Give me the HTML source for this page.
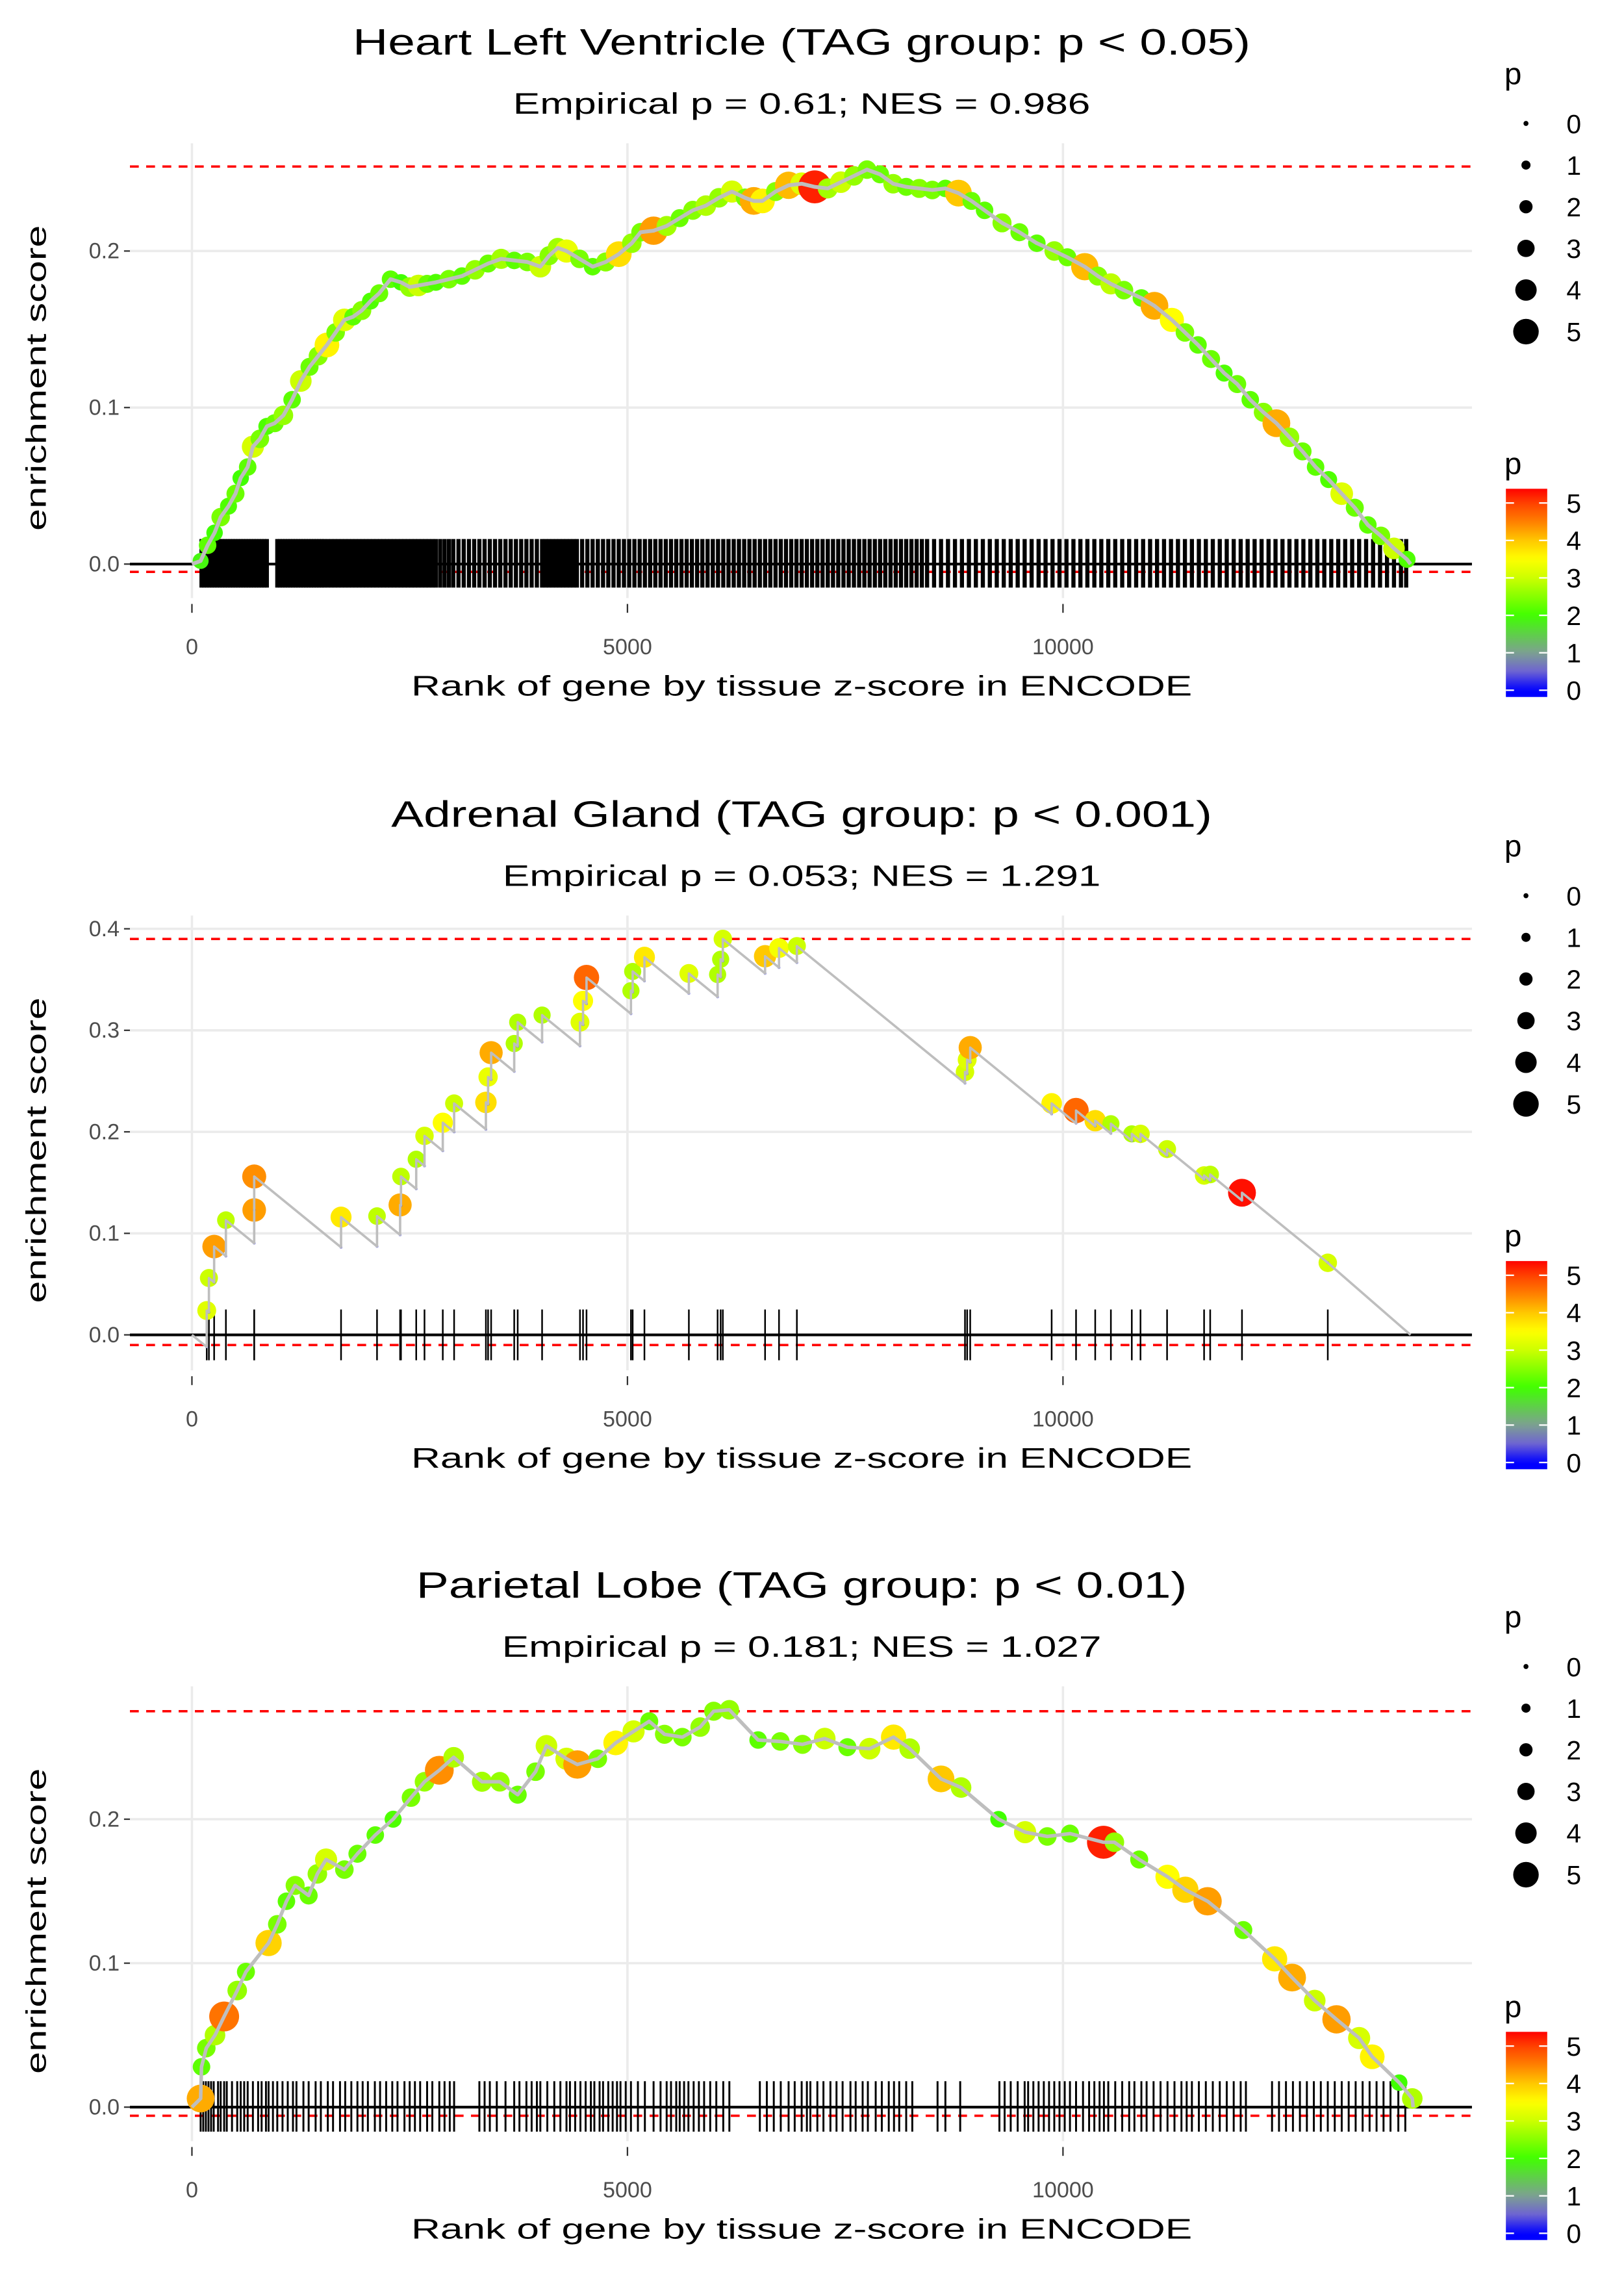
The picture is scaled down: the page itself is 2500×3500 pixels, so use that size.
<!DOCTYPE html>
<html><head><meta charset="utf-8"><style>
html,body{margin:0;padding:0;background:#fff;}
svg{display:block;font-family:"Liberation Sans",Arial,sans-serif;}
</style></head><body>
<svg id="fig" xmlns="http://www.w3.org/2000/svg" width="2500" height="3500" viewBox="0 0 1100 1540">
<rect width="1100" height="1540" fill="#fff"/>
</svg>
<script>
// ---- Panel 1: Heart Left Ventricle ----
const p1Ranks=[100,180,260,330,420,500,560,640,700,780,860,950,1050,1150,1250,1350,1450,1550,1650,1750,1850,1950,2050,2150,2280,2400,2500,2600,2700,2800,2950,3100,3250,3400,3550,3700,3850,4000,4100,4200,4300,4450,4600,4750,4900,5050,5150,5300,5450,5600,5750,5900,6050,6200,6350,6450,6550,6700,6850,7000,7150,7300,7450,7600,7750,7900,8050,8200,8350,8500,8650,8800,8950,9100,9300,9500,9700,9900,10050,10250,10400,10550,10700,10900,11050,11250,11400,11550,11700,11850,12000,12150,12300,12450,12600,12750,12900,13050,13200,13350,13500,13650,13800,13950];
const p1ES=[0.002,0.012,0.02,0.03,0.037,0.045,0.055,0.062,0.075,0.08,0.088,0.09,0.095,0.105,0.117,0.126,0.133,0.14,0.148,0.156,0.158,0.162,0.168,0.173,0.182,0.18,0.177,0.178,0.179,0.18,0.182,0.184,0.188,0.192,0.195,0.194,0.193,0.19,0.197,0.202,0.2,0.195,0.19,0.193,0.198,0.205,0.212,0.213,0.216,0.221,0.226,0.229,0.234,0.238,0.234,0.232,0.232,0.238,0.242,0.243,0.241,0.24,0.244,0.248,0.252,0.249,0.243,0.241,0.24,0.239,0.24,0.237,0.232,0.226,0.218,0.212,0.205,0.2,0.196,0.19,0.184,0.179,0.175,0.17,0.165,0.156,0.148,0.14,0.131,0.122,0.115,0.105,0.097,0.09,0.081,0.072,0.062,0.054,0.045,0.036,0.025,0.018,0.01,0.003];
const p1P=[1.9,2.2,2.0,2.4,2.1,2.3,2.0,2.2,3.1,2.4,2.1,2.3,2.6,2.2,3.0,2.3,2.5,3.6,2.4,3.2,2.2,2.5,2.1,2.3,2.2,2.0,2.6,3.0,2.3,2.1,2.4,2.2,2.6,2.3,2.7,2.2,2.4,3.0,2.5,2.7,3.3,2.4,2.2,2.5,3.8,2.6,2.4,4.3,2.7,2.3,2.5,2.8,2.6,3.1,2.4,4.2,3.6,2.5,4.1,3.2,5.2,2.7,3.0,2.6,2.4,2.3,2.6,2.3,2.5,2.4,2.2,4.0,2.3,2.2,2.5,2.3,2.2,2.6,2.3,4.1,2.5,2.9,2.4,2.2,4.2,3.5,2.4,2.2,2.3,2.1,2.3,2.2,2.5,4.2,2.6,2.3,2.2,2.1,3.2,2.3,2.2,2.4,3.0,2.1];
const p1Rug=[110,140,170,200,230,260,290,320,350,380,410,440,470,500,530,560,590,620,650,680,710,740,770,800,830,860,980,1010,1040,1070,1100,1130,1160,1190,1220,1250,1280,1310,1340,1370,1400,1430,1460,1490,1520,1560,1600,1640,1680,1720,1760,1800,1840,1880,1920,1960,2000,2040,2080,2120,2160,2200,2240,2280,2320,2360,2400,2440,2480,2520,2560,2600,2640,2680,2720,2760,2800,2850,2900,2950,3000,3060,3120,3180,3240,3300,3360,3420,3480,3540,3600,3660,3720,3780,3840,3900,3960,4020,4060,4100,4140,4180,4220,4260,4300,4340,4380,4420,4480,4540,4600,4660,4720,4780,4840,4900,4960,5020,5080,5140,5200,5260,5320,5380,5440,5500,5560,5620,5680,5740,5800,5860,5920,5980,6040,6100,6160,6220,6280,6340,6400,6460,6520,6580,6640,6700,6760,6820,6880,6940,7000,7060,7120,7180,7240,7300,7360,7420,7480,7540,7600,7660,7720,7780,7840,7900,7960,8020,8080,8140,8200,8260,8320,8380,8440,8520,8600,8680,8760,8840,8920,9000,9080,9160,9240,9320,9400,9480,9560,9640,9720,9800,9880,9960,10040,10120,10200,10280,10360,10440,10520,10600,10680,10760,10840,10920,11000,11080,11160,11240,11320,11400,11480,11560,11640,11720,11800,11880,11960,12040,12120,12200,12280,12360,12440,12520,12600,12680,12760,12840,12920,13000,13080,13160,13240,13320,13400,13480,13560,13640,13720,13800,13880,13940];

// ---- Panel 2: Adrenal Gland ----
const p2Ranks=[170,195,255,390,715,715,1712,2125,2390,2400,2575,2670,2880,3010,3375,3400,3435,3700,3740,4020,4455,4490,4530,5040,5060,5195,5705,6035,6070,6095,6580,6740,6945,8875,8900,8935,9870,10150,10370,10550,10790,10890,11195,11620,11690,12055,13040];
const p2ES=[0.024,0.056,0.087,0.113,0.123,0.156,0.116,0.117,0.128,0.156,0.173,0.196,0.209,0.228,0.229,0.254,0.278,0.287,0.308,0.315,0.308,0.329,0.352,0.339,0.358,0.372,0.356,0.355,0.370,0.390,0.373,0.381,0.383,0.259,0.271,0.283,0.228,0.221,0.211,0.208,0.198,0.198,0.183,0.157,0.158,0.140,0.071];
const p2P=[3.2,3.0,4.3,2.9,4.3,4.4,3.7,2.9,4.2,2.9,2.8,3.1,3.5,3.0,3.8,3.3,4.2,2.8,2.8,2.8,3.2,3.5,4.7,2.8,2.8,3.7,3.2,2.8,2.8,3.1,4.0,3.4,3.0,3.1,3.2,4.2,3.6,4.7,3.8,2.8,2.8,3.1,3.0,3.1,2.9,5.3,3.1];
const p2Decline=7.0e-5;
const p2End=13990;

// ---- Panel 3: Parietal Lobe ----
const p3Ranks=[100,110,165,265,370,520,620,880,980,1085,1185,1340,1440,1540,1750,1900,2105,2310,2515,2670,2840,3005,3330,3535,3740,3945,4070,4300,4425,4660,4865,5070,5250,5425,5630,5835,5990,6170,6500,6755,7010,7265,7525,7780,8055,8240,8600,8830,9260,9565,9820,10080,10465,10590,10875,11200,11405,11660,12070,12430,12630,12890,13140,13400,13550,13860,14010];
const p3ES=[0.006,0.028,0.041,0.05,0.063,0.081,0.094,0.114,0.127,0.143,0.154,0.147,0.162,0.172,0.165,0.176,0.189,0.2,0.215,0.226,0.234,0.243,0.226,0.226,0.217,0.233,0.251,0.242,0.238,0.242,0.253,0.261,0.268,0.259,0.257,0.264,0.275,0.276,0.255,0.254,0.252,0.256,0.25,0.249,0.257,0.249,0.228,0.222,0.2,0.191,0.188,0.19,0.184,0.184,0.172,0.16,0.151,0.143,0.123,0.103,0.09,0.074,0.061,0.048,0.035,0.017,0.006];
const p3P=[4.2,2.2,2.4,2.8,4.6,2.6,2.3,3.9,2.4,2.2,2.5,2.3,2.6,3.1,2.4,2.3,2.2,2.1,2.4,2.6,4.4,2.8,2.7,2.6,2.3,2.4,3.0,3.1,4.3,2.4,3.6,3.1,2.3,2.5,2.4,2.6,2.5,2.6,2.2,2.4,2.5,3.0,2.3,3.0,3.7,2.8,4.0,2.8,2.0,3.1,2.4,2.3,5.2,2.6,2.3,3.5,3.9,4.3,2.3,3.7,4.2,3.0,4.3,3.1,3.6,2.0,2.8];
const p3Rug=[100,130,160,190,220,250,300,330,370,400,460,520,560,600,640,700,760,800,850,880,930,980,1040,1100,1160,1200,1280,1340,1420,1480,1560,1620,1700,1760,1830,1900,1960,2020,2100,2160,2230,2300,2360,2440,2500,2560,2620,2700,2760,2840,2900,2960,3010,3300,3360,3420,3500,3600,3700,3760,3840,3900,3960,4000,4080,4160,4230,4300,4340,4400,4460,4520,4580,4620,4680,4720,4780,4830,4880,4920,4980,5040,5120,5200,5300,5380,5450,5500,5560,5600,5650,5700,5760,5820,5880,5950,6020,6100,6170,6520,6600,6680,6760,6850,6920,7000,7060,7100,7180,7250,7330,7400,7470,7560,7620,7700,7760,7850,7920,8000,8060,8120,8200,8270,8560,8650,8820,9270,9330,9400,9480,9560,9600,9660,9720,9780,9840,9900,9960,10020,10080,10150,10230,10300,10360,10420,10470,10520,10600,10680,10760,10820,10900,10960,11040,11120,11200,11280,11360,11420,11480,11560,11640,11720,11800,11880,11960,12040,12100,12400,12480,12560,12640,12720,12800,12880,12960,13040,13120,13200,13280,13360,13440,13520,13600,13680,13760,13850,13930];

// ---- axis ticks ----
const xTickVals=[0,5000,10000];
const xTickLabels=["0","5000","10000"];
const p1YTicks=[0,0.1,0.2];
const p2YTicks=[0,0.1,0.2,0.3,0.4];
const p3YTicks=[0,0.1,0.2];
const legendVals=[0,1,2,3,4,5];

const NS="http://www.w3.org/2000/svg";
const svg=document.getElementById('fig');
function mk(tag,attrs,parent){const e=document.createElementNS(NS,tag);for(const k in attrs)e.setAttribute(k,attrs[k]);(parent||svg).appendChild(e);return e;}

const stops=[[0,[0,0,255]],[0.5,[110,100,210]],[1,[125,160,145]],[2,[64,255,0]],[3,[204,255,0]],[3.5,[255,255,0]],[4,[255,200,0]],[4.5,[255,128,0]],[5,[255,64,0]],[5.4,[255,0,0]]];
function colorOf(p){
  if(p<=0)return 'rgb(0,0,255)';
  for(let i=1;i<stops.length;i++){
    if(p<=stops[i][0]){const a=stops[i-1],b=stops[i];const t=(p-a[0])/(b[0]-a[0]);
      const c=a[1].map((v,j)=>Math.round(v+(b[1][j]-v)*t));return `rgb(${c[0]},${c[1]},${c[2]})`;}
  }
  return 'rgb(255,0,0)';
}
function rad(p){return 1.76+1.45*p;}
const xs=r=>130+r*0.059;

function panel(cfg){
  const off=cfg.off;
  const ys=v=>cfg.y0-v*cfg.k;
  const g=mk('g',{});
  
  
  cfg.yTicks.forEach(v=>{
    const l=mk('line',{x1:88,x2:997,y1:ys(v),y2:ys(v),stroke:'#EBEBEB','stroke-width':1.6},g);
    
    
  });
  xTickVals.forEach(v=>{
    const l=mk('line',{x1:xs(v),x2:xs(v),y1:cfg.top,y2:cfg.bot,stroke:'#EBEBEB','stroke-width':1.6},g);
    
    
  });
  [cfg.hiLine,cfg.loLine].forEach(v=>{
    const l=mk('line',{x1:88,x2:997,y1:ys(v),y2:ys(v),stroke:'#FF0000','stroke-width':1.6,'stroke-dasharray':'6,5'},g);
    
    
  });
  const rugRanks=cfg.rug||cfg.ranks;
  rugRanks.forEach(r=>{
    const l=mk('line',{x1:xs(r),x2:xs(r),y1:ys(cfg.rugHi),y2:ys(cfg.rugLo),stroke:'#000','stroke-width':cfg.rugW},g);
    
    
  });
  const z=mk('line',{x1:88,x2:997,y1:ys(0),y2:ys(0),stroke:'#000','stroke-width':1.8},g);
  
  
  cfg.ranks.forEach((r,i)=>{
    const c=mk('circle',{cx:xs(r),cy:ys(cfg.es[i]),r:rad(cfg.p[i])*cfg.rs,fill:colorOf(cfg.p[i])},g);
    
    
  });
  let d=`M${xs(0)},${ys(0)}`;
  let prevR=0,prevE=0;
  cfg.ranks.forEach((r,i)=>{
    if(cfg.decline){
      const before=prevE-cfg.decline*(r-prevR);
      d+=` L${xs(r)},${ys(before)}`;
      const b=mk('circle',{cx:xs(r),cy:ys(before),r:0.9,fill:'#3030ff'},g);
      
      
    }
    d+=` L${xs(r)},${ys(cfg.es[i])}`;
    prevR=r;prevE=cfg.es[i];
  });
  if(cfg.end)d+=` L${xs(cfg.end)},${ys(0)}`;
  const pth=mk('path',{d:d,fill:'none',stroke:'#BEBEBE','stroke-width':cfg.lineW,'stroke-linejoin':'round'},g);
  
  
  cfg.yTicks.forEach(v=>{
    const t=mk('line',{x1:84,x2:88,y1:ys(v),y2:ys(v),stroke:'#333','stroke-width':1},g);
    
    
    const tx=mk('text',{x:81,y:ys(v)+5,'text-anchor':'end','font-size':15,fill:'#4D4D4D'},g);
    tx.textContent=v.toFixed(1);
    
    
  });
  xTickVals.forEach((v,i)=>{
    const t=mk('line',{x1:xs(v),x2:xs(v),y1:cfg.bot+4,y2:cfg.bot+10,stroke:'#333','stroke-width':1},g);
    
    
    const tx=mk('text',{x:xs(v),y:off+443,'text-anchor':'middle','font-size':15,fill:'#4D4D4D'},g);
    tx.textContent=xTickLabels[i];
    
    
  });
  const ti=mk('text',{x:543,y:off+37,'text-anchor':'middle','font-size':25,fill:'#000',textLength:cfg.titleW,lengthAdjust:'spacingAndGlyphs'},g);
  ti.textContent=cfg.title;
  
  
  const st=mk('text',{x:543,y:off+77,'text-anchor':'middle','font-size':20,fill:'#000',textLength:cfg.subW,lengthAdjust:'spacingAndGlyphs'},g);
  st.textContent=cfg.sub;
  
  
  const xt=mk('text',{x:543,y:off+471,'text-anchor':'middle','font-size':19,fill:'#000',textLength:529,lengthAdjust:'spacingAndGlyphs'},g);
  xt.textContent='Rank of gene by tissue z-score in ENCODE';
  
  
  const yc=cfg.yTitleC;
  const yt=mk('text',{x:0,y:0,transform:`translate(31,${yc}) rotate(-90)`,'text-anchor':'middle','font-size':19,fill:'#000',textLength:207,lengthAdjust:'spacingAndGlyphs'},g);
  yt.textContent='enrichment score';
  
  
  const sl=mk('g',{},g);
  
  
  const slt=mk('text',{x:1019,y:off+57,'font-size':21,fill:'#000'},sl);
  slt.textContent='p';
  
  
  legendVals.forEach((v,i)=>{
    const yy=off+83.6+i*28.2;
    const c=mk('circle',{cx:1033.6,cy:yy,r:rad(v)*0.96,fill:'#000'},sl);
    
    
    const t=mk('text',{x:1061,y:yy+6.5,'font-size':18,fill:'#000'},sl);
    t.textContent=String(v);
    
    
  });
  const cb=mk('g',{},g);
  
  
  const cbt=mk('text',{x:1019,y:off+321,'font-size':21,fill:'#000'},cb);
  cbt.textContent='p';
  
  
  const gid='grad'+cfg.idx;
  const defs=mk('defs',{},cb);
  const lg=mk('linearGradient',{id:gid,x1:0,y1:1,x2:0,y2:0},defs);
  const cMax=5.38, cMin=-0.18;
  for(let i=0;i<=40;i++){
    const v=cMin+(cMax-cMin)*i/40;
    mk('stop',{offset:(i/40),'stop-color':colorOf(v)},lg);
  }
  const cby0=off+472, cby1=off+331;
  const bar=mk('rect',{x:1020,y:cby1,width:28,height:cby0-cby1,fill:`url(#${gid})`},cb);
  
  
  legendVals.forEach(v=>{
    const yy=cby0-(v-cMin)/(cMax-cMin)*(cby0-cby1);
    mk('line',{x1:1020,x2:1025.5,y1:yy,y2:yy,stroke:'#fff','stroke-width':1},cb);
    mk('line',{x1:1042.5,x2:1048,y1:yy,y2:yy,stroke:'#fff','stroke-width':1},cb);
    const t=mk('text',{x:1061,y:yy+6.5,'font-size':18,fill:'#000'},cb);
    t.textContent=String(v);
    
    
  });
}

panel({idx:1,name:'panel-heart-left-ventricle',off:0,y0:382,k:1060,top:97,bot:405,yTicks:p1YTicks,hiLine:0.254,loLine:-0.005,
  ranks:p1Ranks,es:p1ES,p:p1P,rug:p1Rug,rugHi:0.016,rugLo:-0.015,end:13990,rugW:2.8,rs:1.2,lineW:2.6,
  title:'Heart Left Ventricle (TAG group: p < 0.05)',titleW:608,sub:'Empirical p = 0.61; NES = 0.986',subW:391,yTitleC:256});
panel({idx:2,name:'panel-adrenal-gland',off:523,y0:904,k:687.5,top:620,bot:928,yTicks:p2YTicks,hiLine:0.39,loLine:-0.01,
  ranks:p2Ranks,es:p2ES,p:p2P,rug:null,rugHi:0.025,rugLo:-0.025,decline:p2Decline,end:p2End,rugW:1.1,rs:1.0,lineW:1.6,
  title:'Adrenal Gland (TAG group: p < 0.001)',titleW:556,sub:'Empirical p = 0.053; NES = 1.291',subW:405,yTitleC:779});
panel({idx:3,name:'panel-parietal-lobe',off:1045,y0:1427,k:975,top:1142,bot:1450,yTicks:p3YTicks,hiLine:0.275,loLine:-0.006,
  ranks:p3Ranks,es:p3ES,p:p3P,rug:p3Rug,rugHi:0.018,rugLo:-0.017,end:14020,rugW:1.3,rs:1.2,lineW:2.4,
  title:'Parietal Lobe (TAG group: p < 0.01)',titleW:522,sub:'Empirical p = 0.181; NES = 1.027',subW:406,yTitleC:1301});
</script>
</body></html>
